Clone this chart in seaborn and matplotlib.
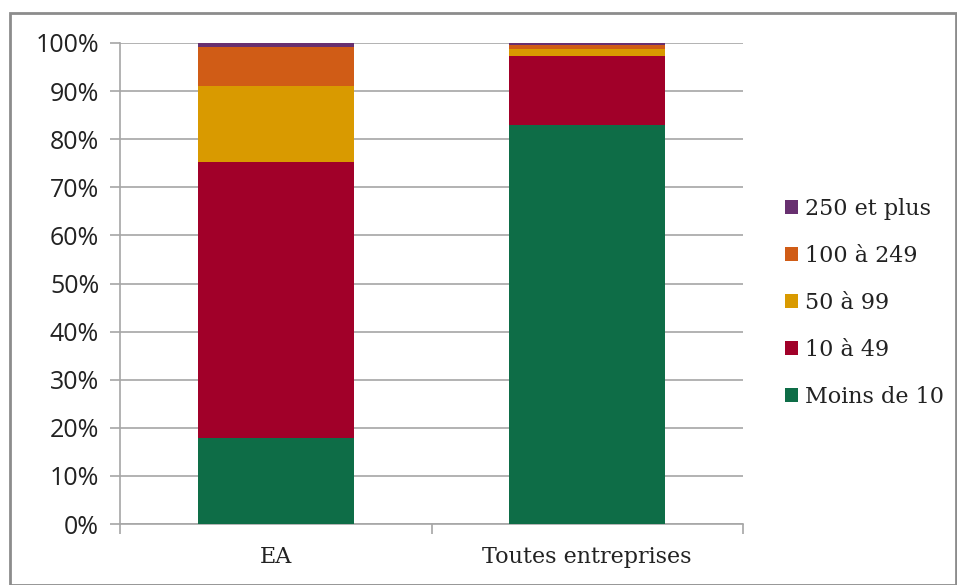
import matplotlib
matplotlib.use("Agg")
import matplotlib.pyplot as plt
from matplotlib.patches import Rectangle, Patch
import seaborn as sns
import numpy as np

# Data (share of establishments by size, %)
categories = ["EA", "Toutes entreprises"]
size_classes = ["Moins de 10", "10 à 49", "50 à 99", "100 à 249", "250 et plus"]
moins_10 = [17.9, 83.0]
de_10_49 = [57.4, 14.2]
de_50_99 = [15.8, 1.6]
de_100_249 = [8.1, 0.7]
plus_250 = [0.8, 0.5]
colors = ["#0E6D47", "#A10029", "#D99A00", "#D05C16", "#683070"]

series = [moins_10, de_10_49, de_50_99, de_100_249, plus_250]

sns.set_theme(style="white")

fig = plt.figure(figsize=(9.57, 5.85), dpi=100)
ax = fig.add_axes([120 / 957, 61 / 585, 623 / 957, 481 / 585])

bottom = np.zeros(len(categories))
for vals, col in zip(series, colors):
    sns.barplot(x=categories, y=vals, bottom=bottom, color=col, width=0.5,
                saturation=1, linewidth=0, edgecolor="none", ax=ax, zorder=3)
    bottom += np.array(vals)

ax.set_ylim(0, 100)
ax.set_xlim(-0.5, 1.5)
ax.set_yticks(range(0, 101, 10))
ax.set_yticklabels([f"{v}%" for v in range(0, 101, 10)],
                   fontsize=18, family="Open Sans", color="#222222")
ax.yaxis.grid(True, color="#A6A6A6", linewidth=1.2, zorder=0)
ax.set_axisbelow(True)

# category boundary ticks on x axis
ax.set_xticks([0, 1])
ax.set_xticklabels(categories, fontsize=16, family="DejaVu Serif", color="#222222")
ax.set_xticks([-0.5, 0.5, 1.5], minor=True)
ax.tick_params(axis="x", which="major", length=0, pad=16)
ax.tick_params(axis="x", which="minor", length=7, color="#A6A6A6", width=1.2, direction="out")
ax.tick_params(axis="y", length=7, color="#A6A6A6", width=1.2, direction="out", pad=8)
ax.xaxis.set_tick_params(bottom=True, which="minor")
ax.yaxis.set_tick_params(left=True)

for s in ["top", "right"]:
    ax.spines[s].set_visible(False)
for s in ["left", "bottom"]:
    ax.spines[s].set_color("#A6A6A6")
    ax.spines[s].set_linewidth(1.2)
ax.set_xlabel("")
ax.set_ylabel("")

# legend (reversed order, top = 250 et plus)
handles = [Patch(facecolor=c, edgecolor="none") for c in colors][::-1]
labels = size_classes[::-1]
leg = fig.legend(handles, labels, loc="center left", bbox_to_anchor=(785 / 957, 1 - 303 / 585),
                 frameon=False, borderaxespad=0, borderpad=0,
                 handlelength=0.6, handleheight=0.6, handletextpad=0.3,
                 labelspacing=1.12, prop={"family": "DejaVu Serif", "size": 16})
for t in leg.get_texts():
    t.set_color("#222222")

# outer frame
fig.patches.append(Rectangle((10 / 957, 0), 946 / 957, 572 / 585, transform=fig.transFigure,
                             fill=False, edgecolor="#8C8C8C", linewidth=2))

fig.savefig("out.png", dpi=100)
plt.close(fig)
